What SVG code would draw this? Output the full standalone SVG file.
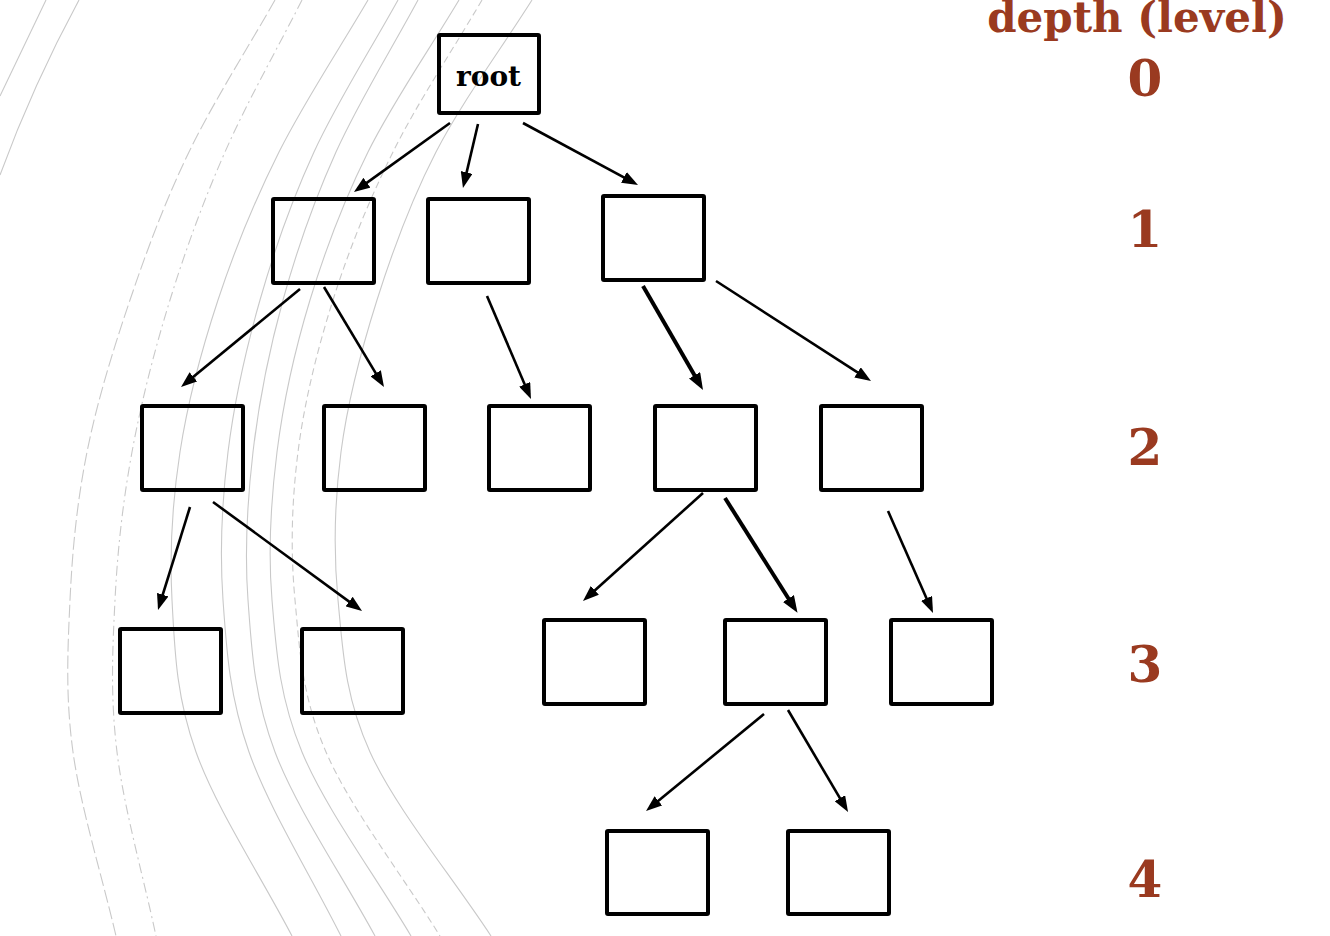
<svg xmlns="http://www.w3.org/2000/svg" width="1330" height="936" viewBox="0 0 1330 936">
<style>
.arc{fill:none;stroke:#c9c9c9;stroke-width:1.1}
.d1{stroke-dasharray:13 4}
.d2{stroke-dasharray:10 4 2 4}
.d3{stroke-dasharray:7 4}
.box{fill:none;stroke:#000;stroke-width:4;stroke-linejoin:round}
.con{stroke:#000;stroke-width:2.6;fill:none}
.thick{stroke-width:4}
.lbl{font-family:"DejaVu Serif","Liberation Serif",serif;font-weight:bold;fill:#9a3a20;text-anchor:middle}
.root{font-family:"DejaVu Serif","Liberation Serif",serif;font-weight:bold;font-size:28px;fill:#000;text-anchor:middle}
</style>
<defs>
<marker id="ah" markerWidth="16" markerHeight="12" refX="11" refY="6" orient="auto" markerUnits="userSpaceOnUse"><path d="M0,0 L16,6 L0,12 z" fill="#000"/></marker>
<marker id="ahb" markerWidth="17" markerHeight="13" refX="11" refY="6.5" orient="auto" markerUnits="userSpaceOnUse"><path d="M0,0 L17,6.5 L0,13 z" fill="#000"/></marker>
</defs>
<rect width="1330" height="936" fill="#fff"/>
<g id="background">
<path class="arc" d="M46,0 Q24,46 0,96"/>
<path class="arc" d="M79,0 Q33,85 0,175"/>
<path class="arc d1" d="M275,0 C246.3,50.7 213.2,102 189,152 C164.8,202 147,250 130,300 C113,350 97,402 87,452 C77,502 72.3,550 70,600 C67.7,650 65.3,696 73,752 C80.7,808 101.7,874.7 116,936"/>
<path class="arc d2" d="M302,0 C276.3,50.7 247,102 225,152 C203,202 185.5,250 170,300 C154.5,350 141.2,402 132,452 C122.8,502 117.5,550 115,600 C112.5,650 110.2,696 117,752 C123.8,808 143,874.7 156,936"/>
<path class="arc" d="M368,0 C338.3,50.7 304,102 279,152 C254,202 234.5,250 218,300 C201.5,350 187.7,402 180,452 C172.3,502 169.3,550 172,600 C174.7,650 176,696 196,752 C216,808 260,874.7 292,936"/>
<path class="arc" d="M398,0 C370,50.7 337,102 314,152 C291,202 274.3,250 260,300 C245.7,350 234.2,402 228,452 C221.8,502 219.5,550 223,600 C226.5,650 229.3,696 249,752 C268.7,808 310.3,874.7 341,936"/>
<path class="arc" d="M418,0 C390.7,50.7 358.5,102 336,152 C313.5,202 296.8,250 283,300 C269.2,350 258.8,402 253,452 C247.2,502 244.3,550 248,600 C251.7,650 253.8,696 275,752 C296.2,808 341.7,874.7 375,936"/>
<path class="arc" d="M459,0 C428.7,50.7 392.8,102 368,152 C343.2,202 325.2,250 310,300 C294.8,350 283.3,402 277,452 C270.7,502 267.8,550 272,600 C276.2,650 278.8,696 302,752 C325.2,808 374.7,874.7 411,936"/>
<path class="arc d3" d="M482,0 C452.3,50.7 417.8,102 393,152 C368.2,202 348.8,250 333,300 C317.2,350 304.3,402 298,452 C291.7,502 290.3,550 295,600 C299.7,650 301.8,696 326,752 C350.2,808 402,874.7 440,936"/>
<path class="arc" d="M532,0 C500,50.7 461.8,102 436,152 C410.2,202 392.8,250 377,300 C361.2,350 347.5,402 341,452 C334.5,502 333.2,550 338,600 C342.8,650 344.5,696 370,752 C395.5,808 450.7,874.7 491,936"/>
</g>
<g id="connectors">
<line class="con" x1="450" y1="123" x2="358" y2="189.1" marker-end="url(#ah)"/>
<line class="con" x1="478" y1="124" x2="464.1" y2="183.1" marker-end="url(#ah)"/>
<line class="con" x1="523" y1="123" x2="633.6" y2="182.6" marker-end="url(#ah)"/>
<line class="con" x1="300" y1="289" x2="184.9" y2="383.8" marker-end="url(#ah)"/>
<line class="con" x1="324" y1="287" x2="381.4" y2="382.7" marker-end="url(#ah)"/>
<line class="con" x1="487" y1="296" x2="529" y2="394.4" marker-end="url(#ah)"/>
<line class="con thick" x1="643" y1="286" x2="700" y2="384.8" marker-end="url(#ahb)"/>
<line class="con" x1="716" y1="281" x2="866.8" y2="378.3" marker-end="url(#ah)"/>
<line class="con" x1="190" y1="507" x2="159.5" y2="605.2" marker-end="url(#ah)"/>
<line class="con" x1="213" y1="502" x2="358" y2="608.1" marker-end="url(#ah)"/>
<line class="con" x1="703" y1="493" x2="586.7" y2="597.7" marker-end="url(#ah)"/>
<line class="con thick" x1="725" y1="498" x2="794.3" y2="607.8" marker-end="url(#ahb)"/>
<line class="con" x1="888" y1="511" x2="931" y2="608.4" marker-end="url(#ah)"/>
<line class="con" x1="764" y1="714" x2="649.9" y2="807.8" marker-end="url(#ah)"/>
<line class="con" x1="788" y1="710" x2="845.5" y2="807.7" marker-end="url(#ah)"/>
</g>
<g id="root"><rect class="box" x="439" y="35" width="100" height="78" rx="1"/><text class="root" x="488.5" y="86">root</text></g>
<g id="n1a"><rect class="box" x="273" y="199" width="101" height="84" rx="1"/></g>
<g id="n1b"><rect class="box" x="428" y="199" width="101" height="84" rx="1"/></g>
<g id="n1c"><rect class="box" x="603" y="196" width="101" height="84" rx="1"/></g>
<g id="n2a"><rect class="box" x="142" y="406" width="101" height="84" rx="1"/></g>
<g id="n2b"><rect class="box" x="324" y="406" width="101" height="84" rx="1"/></g>
<g id="n2c"><rect class="box" x="489" y="406" width="101" height="84" rx="1"/></g>
<g id="n2d"><rect class="box" x="655" y="406" width="101" height="84" rx="1"/></g>
<g id="n2e"><rect class="box" x="821" y="406" width="101" height="84" rx="1"/></g>
<g id="n3a"><rect class="box" x="120" y="629" width="101" height="84" rx="1"/></g>
<g id="n3b"><rect class="box" x="302" y="629" width="101" height="84" rx="1"/></g>
<g id="n3c"><rect class="box" x="544" y="620" width="101" height="84" rx="1"/></g>
<g id="n3d"><rect class="box" x="725" y="620" width="101" height="84" rx="1"/></g>
<g id="n3e"><rect class="box" x="891" y="620" width="101" height="84" rx="1"/></g>
<g id="n4a"><rect class="box" x="607" y="831" width="101" height="83" rx="1"/></g>
<g id="n4b"><rect class="box" x="788" y="831" width="101" height="83" rx="1"/></g>
<g id="depth-labels">
<text class="lbl" x="1137" y="32" font-size="42">depth (level)</text>
<text class="lbl" x="1145" y="96" font-size="50">0</text>
<text class="lbl" x="1145" y="247" font-size="50">1</text>
<text class="lbl" x="1145" y="465" font-size="50">2</text>
<text class="lbl" x="1145" y="682" font-size="50">3</text>
<text class="lbl" x="1145" y="897" font-size="50">4</text>
</g>
</svg>
